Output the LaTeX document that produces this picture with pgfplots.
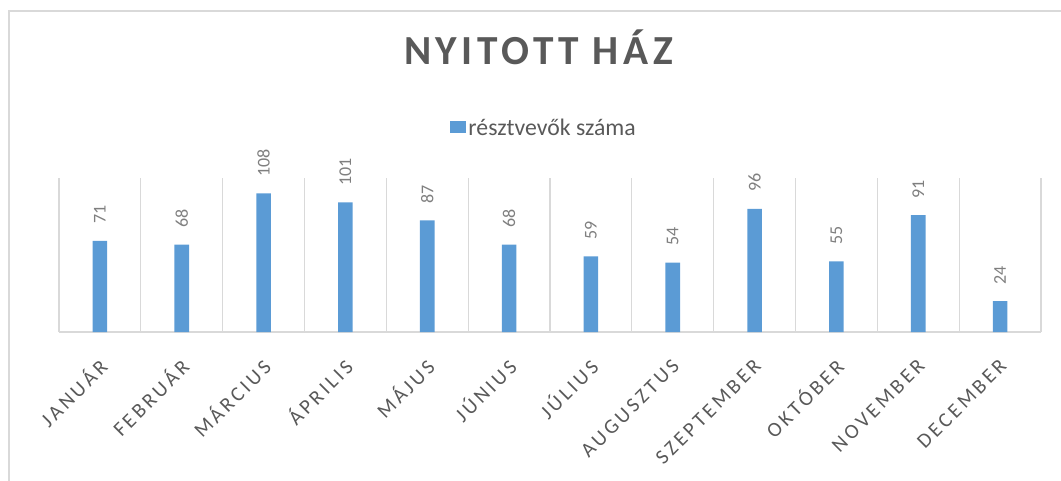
\documentclass[border=0pt]{standalone}
\usepackage{pgfplots}
\pgfplotsset{compat=1.18}
\usepackage{fontspec}
\setmainfont{Carlito}
\newfontfamily\titlefont[LetterSpace=11]{Carlito}
\definecolor{barblue}{HTML}{5B9BD5}
\definecolor{txt}{HTML}{595959}
\definecolor{lbl}{HTML}{7F7F7F}
\definecolor{gridc}{HTML}{D9D9D9}
% manual letter spacing (safe under rotation)
\newdimen\lsp \lsp=2.4pt
\def\so#1{\soB#1\relax}
\def\soB#1{#1\futurelet\next\soC}
\def\soC{\ifx\next\relax\expandafter\soEnd\else\kern\lsp\expandafter\soB\fi}
\def\soEnd\relax{}
\tikzset{catlab/.style={xshift=2.25pt, yshift=-23pt, rotate=45, anchor=east, inner sep=0pt,
    font=\fontsize{15.5}{15.5}\selectfont, text=txt}}
\begin{document}
\begin{tikzpicture}
\useasboundingbox (0,0) rectangle (795.75pt,-360pt);
\draw[gridc, line width=1.2pt] (6.75pt,-400pt) -- (6.75pt,-8.25pt) -- (820pt,-8.25pt);
\begin{axis}[
  at={(44.25pt,-249pt)}, anchor=south west,
  scale only axis, width=736.5pt, height=115.5pt,
  xmin=-0.5, xmax=11.5, ymin=0, ymax=120,
  /pgf/number format/assume math mode=true,
  axis y line=none,
  axis x line*=bottom,
  x axis line style={gridc, line width=1.2pt},
  xtick={0,...,11},
  xticklabels={},
  minor xtick={-0.5,0.5,...,11.5},
  xminorgrids=true,
  minor x grid style={gridc, line width=0.8pt},
  major tick length=0pt, minor tick length=0pt,
  title={NYITOTT HÁZ},
  title style={at={(0.4883,1.688)}, anchor=base, inner sep=0pt,
    font=\titlefont\bfseries\fontsize{31}{31}\selectfont, text=txt},
  legend style={at={(0.494,1.325)}, anchor=center, draw=none, fill=none,
    font=\fontsize{17.8}{17.8}\selectfont, text=txt, inner sep=1pt},
  legend image code/.code={\fill[barblue] (0pt,-3.5pt) rectangle (12pt,5.5pt);},
  clip=false,
]
\addplot[ybar, fill=barblue, draw=none, bar width=10.9pt,
  nodes near coords,
  nodes near coords style={anchor=west, inner sep=0pt, yshift=12.5pt, rotate=90,
    font=\fontsize{13.5}{13.5}\selectfont, text=lbl}]
  coordinates {(0,71) (1,68) (2,108) (3,101) (4,87) (5,68) (6,59) (7,54) (8,96) (9,55) (10,91) (11,24)};
\addlegendentry{résztvevők száma}
\node[catlab] at (axis cs:0,0) {\so{JANUÁR}};
\node[catlab] at (axis cs:1,0) {\so{FEBRUÁR}};
\node[catlab] at (axis cs:2,0) {\so{MÁRCIUS}};
\node[catlab] at (axis cs:3,0) {\so{ÁPRILIS}};
\node[catlab] at (axis cs:4,0) {\so{MÁJUS}};
\node[catlab] at (axis cs:5,0) {\so{JÚNIUS}};
\node[catlab] at (axis cs:6,0) {\so{JÚLIUS}};
\node[catlab] at (axis cs:7,0) {\so{AUGUSZTUS}};
\node[catlab] at (axis cs:8,0) {\so{SZEPTEMBER}};
\node[catlab] at (axis cs:9,0) {\so{OKTÓBER}};
\node[catlab] at (axis cs:10,0) {\so{NOVEMBER}};
\node[catlab] at (axis cs:11,0) {\so{DECEMBER}};
\end{axis}
\end{tikzpicture}
\end{document}
